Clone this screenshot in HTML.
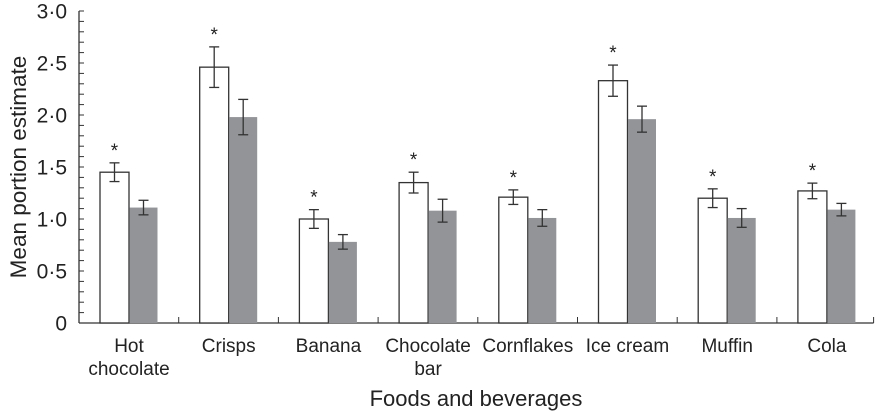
<!DOCTYPE html>
<html><head><meta charset="utf-8"><style>
html,body{margin:0;padding:0;background:#fff;}
svg{display:block;font-family:"Liberation Sans",Arial,sans-serif;}
</style></head><body>
<svg id="chart" width="879" height="413">
<g id="g"></g>
</svg>
<script>
const categories=[["Hot","chocolate"],["Crisps"],["Banana"],["Chocolate","bar"],["Cornflakes"],["Ice cream"],["Muffin"],["Cola"]];
const whiteVals=[1.45,2.46,1.00,1.35,1.21,2.33,1.20,1.27];
const whiteErr=[0.09,0.195,0.09,0.10,0.07,0.15,0.09,0.075];
const greyVals=[1.11,1.98,0.78,1.08,1.01,1.96,1.01,1.09];
const greyErr=[0.07,0.17,0.07,0.11,0.08,0.125,0.09,0.06];
const significant=[true,true,true,true,true,true,true,true];
const yTicks=[0,0.5,1.0,1.5,2.0,2.5,3.0];
const yTickLabels=["0","0·5","1·0","1·5","2·0","2·5","3·0"];

const NS="http://www.w3.org/2000/svg";
const g=document.getElementById('g');
const X0=79,Y0=323,PPU=104,GW=99.7;
const y=v=>Y0-v*PPU;
const gx=i=>X0+i*GW;
function mk(t,a,p){const e=document.createElementNS(NS,t);for(const k in a)e.setAttribute(k,a[k]);(p||g).appendChild(e);return e;}
const ax=mk('g',{});


mk('line',{x1:X0,y1:y(3),x2:X0,y2:Y0,stroke:'#333','stroke-width':1.3},ax);
mk('line',{x1:X0,y1:Y0,x2:X0+8*GW-3,y2:Y0,stroke:'#333','stroke-width':1.3},ax);
for(let k=0;k<=30;k++){const v=k/10;mk('line',{x1:X0,y1:y(v),x2:X0+5,y2:y(v),stroke:'#333','stroke-width':1},ax);}
for(let i=1;i<=8;i++){const xx=Math.min(gx(i),X0+8*GW-3);mk('line',{x1:xx,y1:Y0,x2:xx,y2:Y0-6,stroke:'#333','stroke-width':1},ax);}
yTicks.forEach((v,i)=>{const t=mk('text',{x:67,y:y(v)+7.5,'text-anchor':'end','font-size':21,fill:'#222'});t.textContent=yTickLabels[i];

});
function err(cx,v,e){mk('line',{x1:cx,y1:y(v+e),x2:cx,y2:y(v-e),stroke:'#333','stroke-width':1.3});
mk('line',{x1:cx-5,y1:y(v+e),x2:cx+5,y2:y(v+e),stroke:'#333','stroke-width':1.3});
mk('line',{x1:cx-5,y1:y(v-e),x2:cx+5,y2:y(v-e),stroke:'#333','stroke-width':1.3});}
categories.forEach((c,i)=>{
 const bx=gx(i)+21;
 const w=mk('rect',{x:bx,y:y(whiteVals[i]),width:29,height:whiteVals[i]*PPU,fill:'#fff',stroke:'#333','stroke-width':1.3});
 
 
 const gr=mk('rect',{x:bx+29.5,y:y(greyVals[i]),width:28,height:greyVals[i]*PPU,fill:'#929497'});
 
 
 err(bx+14.5,whiteVals[i],whiteErr[i]);
 err(bx+43.5,greyVals[i],greyErr[i]);
 if(significant[i]){const s=mk('text',{x:bx+14.5,y:y(whiteVals[i]+whiteErr[i])-6,'text-anchor':'middle','font-size':19,fill:'#222'});s.textContent='*';
 
 }
 c.forEach((ln,j)=>{const t=mk('text',{x:bx+29,y:352+j*23,'text-anchor':'middle','font-size':19,fill:'#222'});t.textContent=ln;
 
 });
});
const yt=mk('text',{x:0,y:0,transform:'translate(26,167) rotate(-90)','text-anchor':'middle','font-size':22.5,fill:'#222'});yt.textContent='Mean portion estimate';


const xt=mk('text',{x:476,y:406,'text-anchor':'middle','font-size':22,fill:'#222'});xt.textContent='Foods and beverages';


</script>
</body></html>
